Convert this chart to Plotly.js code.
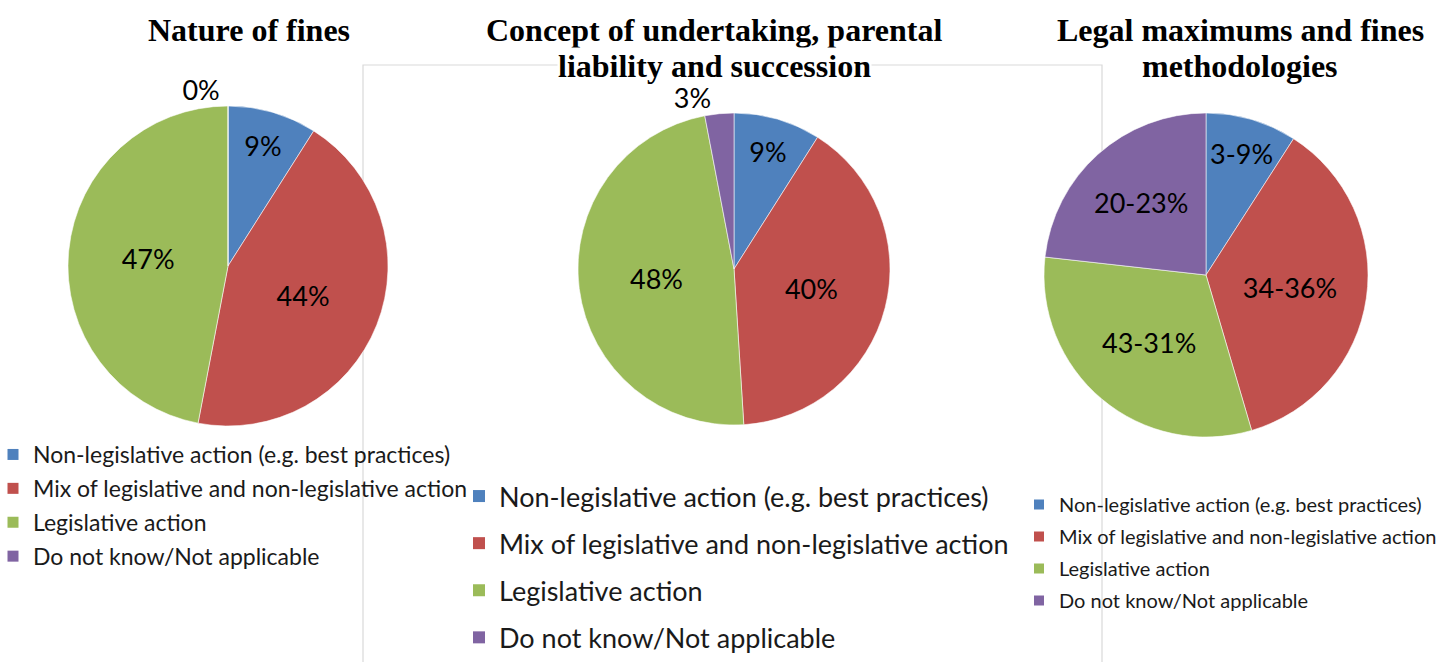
<!DOCTYPE html>
<html>
<head>
<meta charset="utf-8">
<script src="https://cdn.plot.ly/plotly-3.0.1.min.js"></script>
<style>html,body{margin:0;padding:0;background:#fff;overflow:hidden;}#chart{width:1440px;height:662px;}</style>
</head>
<body>
<div id="chart"></div>
<script>
const categories = [
  'Non-legislative action (e.g. best practices)',
  'Mix of legislative and non-legislative action',
  'Legislative action',
  'Do not know/Not applicable'
];
const colors = ['#4F81BD', '#C0504D', '#9BBB59', '#8064A2'];
const finesValues = [9, 44, 47, 0];
const undertakingValues = [9, 40, 48, 3];
const maximumsValues = [9, 36, 31, 23];
const maximumsText = ['3-9%', '34-36%', '43-31%', '20-23%'];
const titleLines = [
  ['Nature of fines'],
  ['Concept of undertaking, parental', 'liability and succession'],
  ['Legal maximums and fines', 'methodologies']
];

const W = 1440, H = 662;
function dx(a, b) { return [a / W, b / W]; }
function dy(top, bottom) { return [1 - bottom / H, 1 - top / H]; }

const common = {
  type: 'pie',
  labels: categories,
  sort: false,
  direction: 'clockwise',
  rotation: 0,
  showlegend: false,
  marker: { colors: colors, line: { color: 'rgba(255,255,255,0.7)', width: 0.8 } },
  insidetextorientation: 'horizontal',
  hoverinfo: 'label+percent'
};

const traces = [
  Object.assign({}, common, {
    values: finesValues,
    domain: { x: dx(68, 388), y: dy(106, 426) },
    texttemplate: '%{percent:.0%}',
    textposition: ['inside', 'inside', 'inside', 'outside'],
    textfont: { family: 'Lato', size: 27, color: '#000' }
  }),
  Object.assign({}, common, {
    values: undertakingValues,
    domain: { x: dx(578, 890), y: dy(113, 425) },
    texttemplate: '%{percent:.0%}',
    textposition: ['inside', 'inside', 'inside', 'outside'],
    textfont: { family: 'Lato', size: 27, color: '#000' }
  }),
  Object.assign({}, common, {
    values: maximumsValues,
    text: maximumsText,
    domain: { x: dx(1044, 1368), y: dy(113, 437) },
    texttemplate: '%{text}',
    textposition: 'inside',
    textfont: { family: 'Lato', size: 27, color: '#000' }
  })
];

// legend entries (one per category, for each of the three legends)
const legendNames = ['legend', 'legend2', 'legend3'];
const legendSymbolSizes = [11, 12, 10];
legendNames.forEach(function (lg, li) {
  categories.forEach(function (cat, ci) {
    traces.push({
      type: 'scatter', mode: 'markers', x: [null], y: [null],
      name: cat, legend: lg, legendgroup: lg + '_' + ci, showlegend: true,
      marker: { symbol: 'square', size: legendSymbolSizes[li], color: colors[ci] },
      hoverinfo: 'skip'
    });
  });
});

const titleFont = { family: 'Liberation Serif', size: 32, color: '#000', weight: 'bold' };
const titleX = [249, 714, 1240];
const titleY = [30, 66];
const annotations = [];
titleLines.forEach(function (lines, i) {
  lines.forEach(function (line, j) {
    annotations.push({
      text: line, x: titleX[i] / W, y: 1 - titleY[j] / H, xref: 'paper', yref: 'paper',
      xanchor: 'center', yanchor: 'middle', showarrow: false, font: titleFont,
      bgcolor: (i === 1 && j === 1) ? '#fff' : 'rgba(0,0,0,0)', borderpad: 0
    });
  });
});

const legendBase = { xanchor: 'left', yanchor: 'top', bgcolor: 'rgba(0,0,0,0)', traceorder: 'grouped', borderwidth: 0 };

const layout = {
  width: W,
  height: H,
  margin: { l: 0, r: 0, t: 0, b: 0, autoexpand: false },
  paper_bgcolor: '#fff',
  plot_bgcolor: 'rgba(0,0,0,0)',
  showlegend: true,
  uniformtext: { mode: 'show', minsize: 26 },
  xaxis: { visible: false, range: [0, 1] },
  yaxis: { visible: false, range: [0, 1] },
  legend: Object.assign({}, legendBase, {
    x: -7 / W, y: 1 - 433 / H, tracegroupgap: 1,
    font: { family: 'Lato', size: 23, color: '#1a1a1a' }
  }),
  legend2: Object.assign({}, legendBase, {
    x: 459 / W, y: 1 - 472 / H, tracegroupgap: 9,
    font: { family: 'Lato', size: 27, color: '#1a1a1a' }
  }),
  legend3: Object.assign({}, legendBase, {
    x: 1019 / W, y: 1 - 485 / H, tracegroupgap: 3,
    font: { family: 'Lato', size: 20, color: '#1a1a1a' }
  }),
  shapes: [{
    type: 'rect', xref: 'paper', yref: 'paper', layer: 'below',
    x0: 363 / W, x1: 1102 / W, y0: -0.02, y1: 1 - 65 / H,
    line: { color: '#d9d9d9', width: 1.2 }, fillcolor: 'rgba(0,0,0,0)'
  }],
  annotations: annotations
};

Plotly.newPlot('chart', traces, layout, { displayModeBar: false, staticPlot: true });
</script>
</body>
</html>
